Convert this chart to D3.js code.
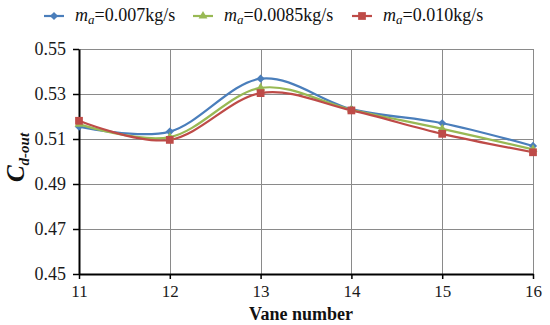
<!DOCTYPE html>
<html>
<head>
<meta charset="utf-8">
<script src="https://cdn.jsdelivr.net/npm/d3@7"></script>
<style>
  body { margin: 0; background: #fff; }
  svg { display: block; }
  svg text { font-family: "Liberation Serif", "Times New Roman", "DejaVu Serif", serif; }
</style>
</head>
<body>
<div id="chart"></div>
<script>
const vanes = [11, 12, 13, 14, 15, 16];
const yTicks = [0.45, 0.47, 0.49, 0.51, 0.53, 0.55];
const seriesNames = ["0.007kg/s", "0.0085kg/s", "0.010kg/s"];
const cd007 = [0.5155, 0.5133, 0.5368, 0.5233, 0.5170, 0.5069];
const cd0085 = [0.5166, 0.5108, 0.5327, 0.5230, 0.5145, 0.5054];
const cd010 = [0.5181, 0.5096, 0.5304, 0.5227, 0.5123, 0.5041];

const width = 550, height = 325;
const margin = {top: 49, right: 17, bottom: 51, left: 79};

const series = [
  {name: seriesNames[0], values: cd007, color: "#4a7ebb", marker: "diamond"},
  {name: seriesNames[1], values: cd0085, color: "#98b954", marker: "triangle"},
  {name: seriesNames[2], values: cd010, color: "#be4b48", marker: "square"}
];

const svg = d3.select("#chart")
  .append("svg")
    .attr("width", width)
    .attr("height", height);

const x = d3.scaleLinear()
  .domain([11, 16])
  .range([margin.left, width - margin.right]);

const y = d3.scaleLinear()
  .domain([0.45, 0.55])
  .range([height - margin.bottom, margin.top]);

// grid
const grid = svg.append("g")
  .attr("stroke", "#8a8a8a")
  .attr("stroke-width", 1);

grid.selectAll(".h")
  .data(yTicks.slice(1))
  .join("line")
    .attr("x1", x(11))
    .attr("x2", x(16))
    .attr("y1", d => Math.round(y(d)) + 0.5)
    .attr("y2", d => Math.round(y(d)) + 0.5);

grid.selectAll(".v")
  .data(vanes.slice(1))
  .join("line")
    .attr("x1", d => Math.round(x(d)) + 0.5)
    .attr("x2", d => Math.round(x(d)) + 0.5)
    .attr("y1", y(0.55))
    .attr("y2", y(0.45));

// axes
const xAxis = svg.append("g")
  .attr("transform", `translate(0,${y(0.45)})`)
  .call(d3.axisBottom(x).tickValues(vanes).tickFormat(d3.format("d")).tickSize(5).tickSizeOuter(0));

const yAxis = svg.append("g")
  .attr("transform", `translate(${x(11)},0)`)
  .call(d3.axisLeft(y).tickValues(yTicks).tickFormat(d3.format(".2f")).tickSize(6).tickSizeOuter(0));

[xAxis, yAxis].forEach(a => {
  a.attr("font-family", null);
  a.select(".domain").attr("stroke", "#000").attr("stroke-width", 2);
  a.selectAll(".tick line").attr("stroke", "#000").attr("stroke-width", 1.5);
  a.selectAll(".tick text")
    .attr("fill", "#1a1a1a")
    .attr("font-size", 18);
});
xAxis.selectAll(".tick text").attr("font-size", 17).attr("dy", "0.71em").attr("y", 11);
yAxis.selectAll(".tick text").attr("x", -13);

// axis titles
svg.append("text")
  .attr("x", (x(11) + x(16)) / 2 - 5)
  .attr("y", 320)
  .attr("text-anchor", "middle")
  .attr("font-size", 18)
  .attr("font-weight", "bold")
  .attr("fill", "#111")
  .text("Vane number");

const yt = svg.append("text")
  .attr("transform", `translate(24,${(y(0.45) + y(0.55)) / 2 - 4}) rotate(-90)`)
  .attr("text-anchor", "middle")
  .attr("font-weight", "bold")
  .attr("font-style", "italic")
  .attr("fill", "#111");
yt.append("tspan").attr("font-size", 25).text("C");
yt.append("tspan").attr("font-size", 15).attr("dy", 5).text("d-out");

// lines
const line = d3.line()
  .x((d, i) => x(vanes[i]))
  .y(d => y(d))
  .curve(d3.curveCardinal.tension(0));

function markerPath(type) {
  if (type === "diamond") return d3.symbol(d3.symbolSquare, 34)();
  if (type === "triangle") return d3.symbol(d3.symbolTriangle, 34)();
  return d3.symbol(d3.symbolSquare, 60)();
}

const plot = svg.append("g");

series.forEach(s => {
  plot.append("path")
    .datum(s.values)
    .attr("fill", "none")
    .attr("stroke", s.color)
    .attr("stroke-width", 2.2)
    .attr("d", line);
});

series.forEach(s => {
  plot.append("g")
    .selectAll("path")
    .data(s.values)
    .join("path")
      .attr("d", markerPath(s.marker))
      .attr("fill", s.color)
      .attr("transform", (d, i) => `translate(${x(vanes[i])},${y(d)})` + (s.marker === "diamond" ? " rotate(45)" : ""));
});

// legend
const legendX = [44, 193, 352];
const legend = svg.append("g");
series.forEach((s, i) => {
  const g = legend.append("g").attr("transform", `translate(${legendX[i]},16)`);
  g.append("line")
    .attr("x1", 0).attr("x2", 20)
    .attr("stroke", s.color)
    .attr("stroke-width", 2.2);
  g.append("path")
    .attr("d", markerPath(s.marker))
    .attr("fill", s.color)
    .attr("transform", "translate(10,0)" + (s.marker === "diamond" ? " rotate(45)" : ""));
  const t = g.append("text")
    .attr("x", 31)
    .attr("y", 5)
    .attr("font-size", 18)
    .attr("fill", "#111");
  t.append("tspan").attr("font-style", "italic").text("m");
  t.append("tspan").attr("font-style", "italic").attr("font-size", 13).attr("dy", 3).text("a");
  t.append("tspan").attr("dy", -3).text("=" + s.name);
});
</script>
</body>
</html>
